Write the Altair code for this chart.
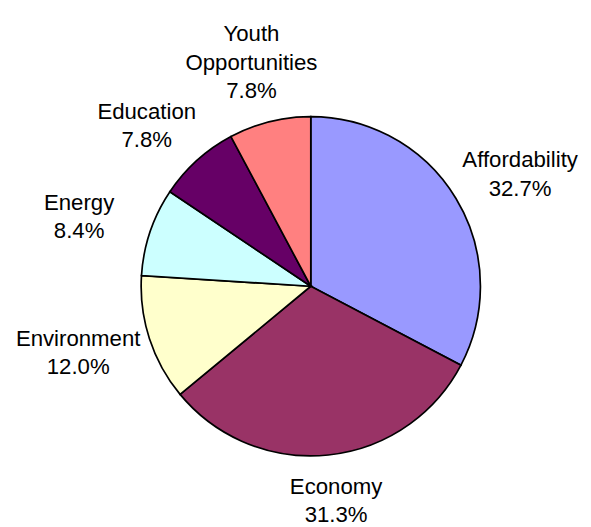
import altair as alt
import pandas as pd

categories = ["Affordability", "Economy", "Environment", "Energy", "Education", "Youth Opportunities"]
values = [32.7, 31.3, 12.0, 8.4, 7.8, 7.8]
colors = ["#9999FF", "#993366", "#FFFFCC", "#CCFFFF", "#660066", "#FF8080"]

labels = [c.replace(" ", "\n") + "\n" + f"{v:.1f}%" for c, v in zip(categories, values)]
df = pd.DataFrame({
    "category": categories,
    "value": values,
    "order": list(range(len(categories))),
    "label": labels,
    "nlines": [len(l.split("\n")) for l in labels],
})

W, H = 536, 465
R = 172
LINE_H = 29
CX, CY = W / 2, H / 2

base = alt.Chart(df).transform_joinaggregate(
    total="sum(value)"
).transform_window(
    cum="sum(value)", sort=[alt.SortField("order")], frame=[None, 0]
).transform_calculate(
    mid="2*PI*(datum.cum - datum.value/2)/datum.total"
).transform_calculate(
    lx=f"{CX} + 248*sin(datum.mid)",
    ly=f"{CY} - cos(datum.mid)*(190 + datum.nlines*{LINE_H}/2) - (datum.nlines-1)*{LINE_H}/2",
)

pie = base.mark_arc(outerRadius=R, stroke="black", strokeWidth=1.7).encode(
    theta=alt.Theta("value:Q", stack=True),
    order=alt.Order("order:Q"),
    color=alt.Color("category:N", scale=alt.Scale(domain=categories, range=colors), legend=None),
)

text = base.mark_text(
    align="center", baseline="middle", lineBreak="\n", lineHeight=LINE_H,
    fontSize=22.5, font="Liberation Sans", color="black"
).encode(
    x=alt.X("lx:Q", scale=None),
    y=alt.Y("ly:Q", scale=None),
    text="label:N",
)

chart = alt.layer(pie, text).properties(
    width=W, height=H,
    padding={"left": 39, "top": 46, "right": 8, "bottom": 8},
    autosize=alt.AutoSizeParams(type="none"),
).configure_view(stroke=None)

chart.save("out.html", embed_options={"renderer": "svg", "actions": False})
